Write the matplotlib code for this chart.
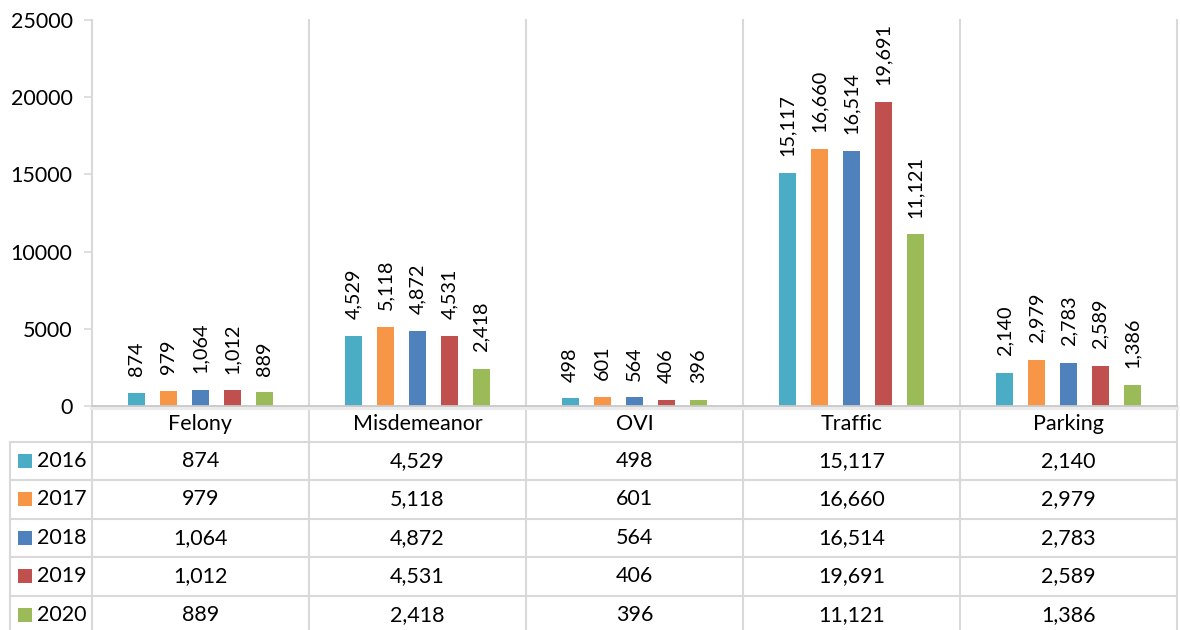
import matplotlib
matplotlib.use("Agg")
import matplotlib.pyplot as plt
from matplotlib.patches import Rectangle

plt.rcParams['font.family'] = ['Lato', 'DejaVu Sans']

categories = ["Felony", "Misdemeanor", "OVI", "Traffic", "Parking"]
years = ["2016", "2017", "2018", "2019", "2020"]
values = {
    "2016": [874, 4529, 498, 15117, 2140],
    "2017": [979, 5118, 601, 16660, 2979],
    "2018": [1064, 4872, 564, 16514, 2783],
    "2019": [1012, 4531, 406, 19691, 2589],
    "2020": [889, 2418, 396, 11121, 1386],
}
colors = ["#4BACC6", "#F79646", "#4F81BD", "#C0504D", "#9BBB59"]
yticks = [0, 5000, 10000, 15000, 20000, 25000]

W, H = 1180, 630
fig = plt.figure(figsize=(W / 100, H / 100), dpi=100)
x0, x1 = 92, 1177
ytop, ybot = 20, 406
ax = fig.add_axes([x0 / W, 1 - ybot / H, (x1 - x0) / W, (ybot - ytop) / H])
ax.set_xlim(0, len(categories))
ax.set_ylim(0, 25000)

grid = "#D9D9D9"
FS = 15.5
pitch = 0.147
bw = 0.078
for i, yr in enumerate(years):
    xs = [c + 0.5 + (i - 2) * pitch for c in range(len(categories))]
    ax.bar(xs, values[yr], width=bw, color=colors[i], zorder=3)
    for x, v in zip(xs, values[yr]):
        ax.annotate(f"{v:,}", (x, v), xytext=(0, 12), textcoords="offset points",
                    rotation=90, ha="center", va="bottom", fontsize=14.3, color="#000000")

for s in ax.spines.values():
    s.set_visible(False)
ax.set_xticks([])
ax.set_yticks(yticks)
ax.set_yticklabels([str(t) for t in yticks], fontsize=FS)
ax.tick_params(axis="y", length=6, color=grid, width=1.2, pad=8)

# pixel -> axes-fraction y helper
def ay(py):
    return (ybot - py) / (ybot - ytop)

def ax_x(px):
    return (px - x0) / (x1 - x0) * len(categories)

# vertical separators extending into table
row_edges = [441.5, 480, 518.5, 557, 595.5, 634]
for c in range(len(categories) + 1):
    ax.plot([c, c], [ay(ytop), ay(row_edges[-1])], color=grid, lw=1.5,
            transform=ax.get_xaxis_transform(), clip_on=False, zorder=1)
# baseline with subtle shadow
ax.plot([0, len(categories)], [ay(ybot + 2), ay(ybot + 2)], color="#EBEBEB", lw=3,
        transform=ax.get_xaxis_transform(), clip_on=False, zorder=2)
ax.plot([0, len(categories)], [0, 0], color="#C8C8C8", lw=1.3,
        transform=ax.get_xaxis_transform(), clip_on=False, zorder=4)

# category labels
for c, name in enumerate(categories):
    ax.text(c + 0.5, ay(424), name, ha="center", va="center", fontsize=FS,
            transform=ax.get_xaxis_transform(), clip_on=False)

# table horizontal lines
left = ax_x(9.5)
for py in row_edges[:-1]:
    ax.plot([left, len(categories)], [ay(py), ay(py)], color=grid, lw=1.5,
            transform=ax.get_xaxis_transform(), clip_on=False, zorder=1)
ax.plot([left, left], [ay(row_edges[0]), ay(row_edges[-1])], color=grid, lw=1.5,
        transform=ax.get_xaxis_transform(), clip_on=False, zorder=1)

# table rows
for i, yr in enumerate(years):
    yc = (row_edges[i] + row_edges[i + 1]) / 2
    # legend key
    ax.add_patch(Rectangle((ax_x(18), ay(yc + 7)), ax_x(32) - ax_x(18), ay(yc - 7) - ay(yc + 7),
                           facecolor=colors[i], edgecolor="none",
                           transform=ax.get_xaxis_transform(), clip_on=False))
    ax.text(ax_x(37), ay(yc), yr, ha="left", va="center", fontsize=FS,
            transform=ax.get_xaxis_transform(), clip_on=False)
    for c, v in enumerate(values[yr]):
        ax.text(c + 0.5, ay(yc), f"{v:,}", ha="center", va="center", fontsize=FS,
                transform=ax.get_xaxis_transform(), clip_on=False)

fig.savefig("out.png", dpi=100)
